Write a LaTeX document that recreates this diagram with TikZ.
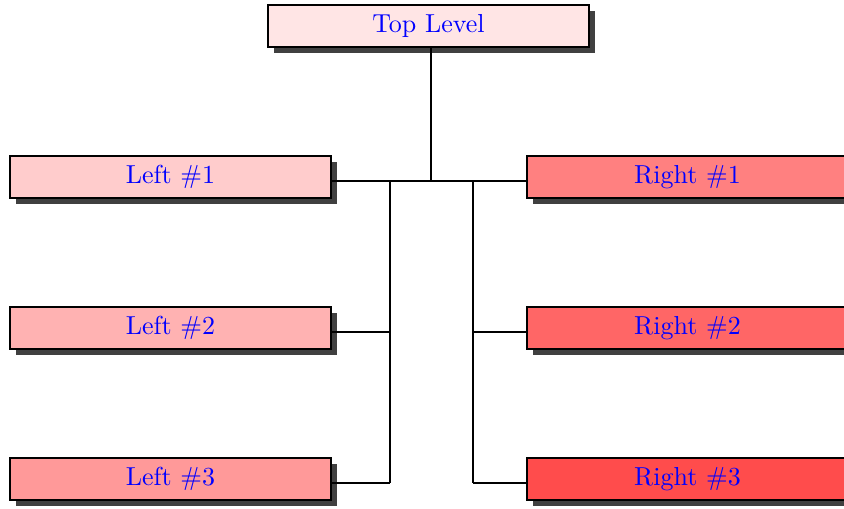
\documentclass[tikz,border=0pt]{standalone}
\usetikzlibrary{shadows}
\begin{document}
\begin{tikzpicture}[x=0.3846pt,y=-0.3846pt,
  box/.style={draw=black, thick, text=blue, minimum width=123.5pt, minimum height=16.2pt, inner sep=0pt,
    drop shadow={shadow xshift=2.3pt, shadow yshift=-2.3pt, fill=black!75, opacity=1}},
  conn/.style={thick, black}]
\clip (0,0) rectangle (844,508);
\node[box, fill=red!10] (top) at (428.5,26) {Top Level};
\node[box, fill=red!20] (l1) at (170.5,177) {Left \#1};
\node[box, fill=red!30] (l2) at (170.5,328) {Left \#2};
\node[box, fill=red!40] (l3) at (170.5,479) {Left \#3};
\node[box, fill=red!50] (r1) at (687.5,177) {Right \#1};
\node[box, fill=red!60] (r2) at (687.5,328) {Right \#2};
\node[box, fill=red!70] (r3) at (687.5,479) {Right \#3};
\coordinate (hub) at (431,181);
\coordinate (lb1) at (390,181);
\coordinate (lb2) at (390,332);
\coordinate (lb3) at (390,483);
\coordinate (rb1) at (473,181);
\coordinate (rb2) at (473,332);
\coordinate (rb3) at (473,483);
\draw[conn] (top.south -| hub) -- (hub);
\draw[conn] (l1.east |- hub) -- (r1.west |- hub);
\draw[conn] (lb1) -- (lb3);
\draw[conn] (rb1) -- (rb3);
\draw[conn] (l2.east |- lb2) -- (lb2);
\draw[conn] (l3.east |- lb3) -- (lb3);
\draw[conn] (r2.west |- rb2) -- (rb2);
\draw[conn] (r3.west |- rb3) -- (rb3);
\end{tikzpicture}
\end{document}
